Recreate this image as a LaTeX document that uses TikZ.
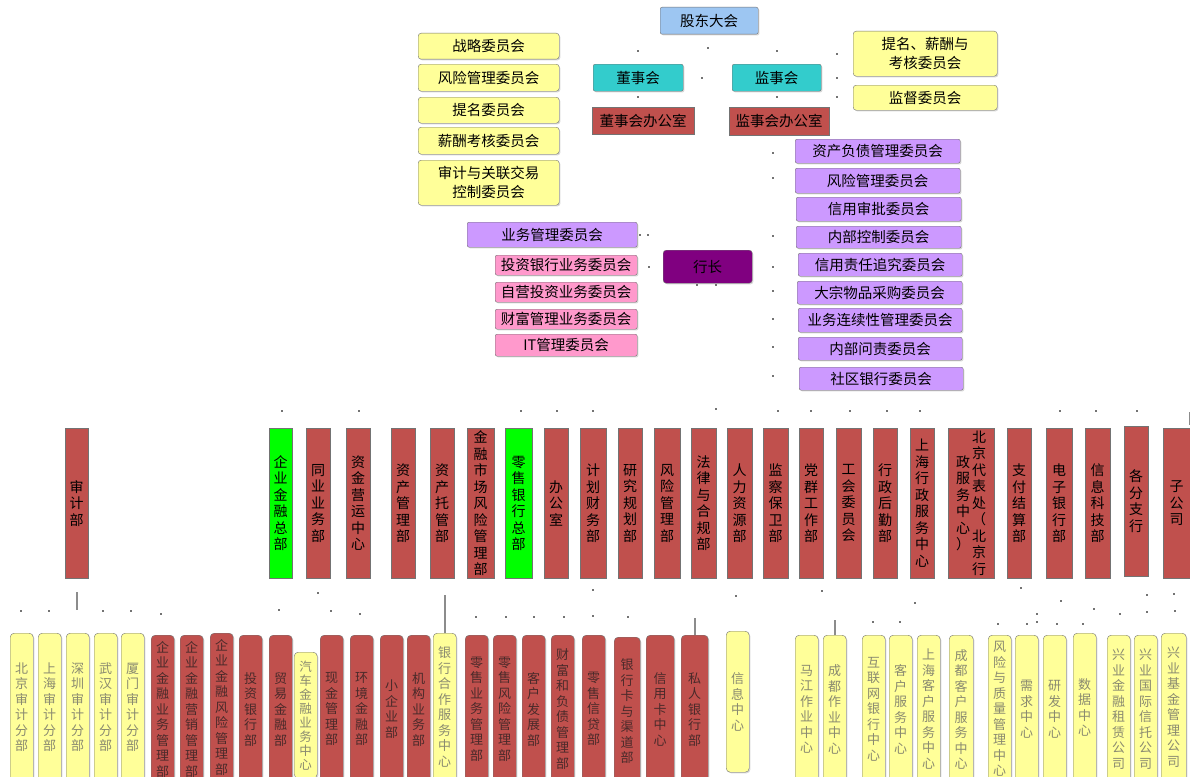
\documentclass[tikz,border=0pt]{standalone}
\usepackage{fontspec}
\setmainfont{Noto Sans CJK SC}
\usepackage{xcolor}
\usepackage{tikz}
\usetikzlibrary{shapes,arrows,positioning,calc,shadows}

\definecolor{gdhblue}{HTML}{9DC6F2}
\definecolor{boardteal}{HTML}{33CCCC}
\definecolor{deptred}{HTML}{C0504D}
\definecolor{cmteyellow}{HTML}{FFFF99}
\definecolor{cmtepurple}{HTML}{CC99FF}
\definecolor{cmtepink}{HTML}{FF99CC}
\definecolor{hzpurple}{HTML}{800080}
\definecolor{hqgreen}{HTML}{00FF00}
\definecolor{unittext}{HTML}{4A2A2A}
\definecolor{unitgray}{HTML}{8A8A70}

% vertical text, one character per line
\newcommand\vtext[1]{\vtop{\vtextaux#1\relax}}
\def\vtextaux#1{\ifx\relax#1\else\hbox to 1em{\hss#1\hss}\expandafter\vtextaux\fi}
\newcommand\vctext[1]{\ensuremath{\vcenter{\vtextaux#1\relax}}}

\begin{document}
\begin{tikzpicture}[
    x=1pt, y=-1pt,
    base/.style={rectangle, draw=black!55, inner sep=0pt, anchor=north west, align=center, drop shadow={shadow xshift=1.2pt, shadow yshift=-1.2pt, opacity=0.3}},
    gdh/.style={base, fill=gdhblue, rounded corners=2pt, font=\fontsize{14.5}{17}\selectfont},
    board/.style={base, fill=boardteal, rounded corners=2pt, font=\fontsize{14.5}{17}\selectfont},
    office/.style={base, fill=deptred, font=\fontsize{14.5}{17}\selectfont},
    cmte/.style={base, fill=cmteyellow, rounded corners=3pt, minimum width=141pt, font=\fontsize{14.5}{19}\selectfont},
    hzcmte/.style={base, fill=cmtepurple, rounded corners=2pt, minimum width=165pt, minimum height=24pt, font=\fontsize{14.5}{17}\selectfont},
    subcmte/.style={base, fill=cmtepink, rounded corners=2pt, minimum width=142pt, minimum height=20pt, font=\fontsize{14.5}{17}\selectfont},
    hz/.style={base, fill=hzpurple, rounded corners=3pt, text=black, font=\fontsize{14.5}{17}\selectfont},
    dept/.style={base, fill=deptred, minimum width=24pt, minimum height=150pt, font=\fontsize{14}{16.5}\selectfont},
    deptgreen/.style={dept, fill=hqgreen},
    unit/.style={base, fill=deptred, rounded corners=4pt, minimum width=23pt, minimum height=148pt, text=unittext, font=\fontsize{13}{15.5}\selectfont},
    unity/.style={unit, fill=cmteyellow, text=unitgray},
    dotmark/.style={fill=black!55},
    stub/.style={draw=black!45, line width=2pt}
]
\clip (0,0) rectangle (1190,776);
\fill[white] (0,0) rectangle (1190,776);

% Governance
\node[gdh, minimum width=98pt, minimum height=27pt] (gudong) at (660,7) {股东大会};
\node[board, minimum width=90pt, minimum height=27pt] (dongshi) at (593,64) {董事会};
\node[board, minimum width=89pt, minimum height=27pt] (jianshi) at (732,64) {监事会};
\node[office, minimum width=102pt, minimum height=27pt] (dsbgs) at (592,107) {董事会办公室};
\node[office, minimum width=100pt, minimum height=28pt] (jsbgs) at (729,107) {监事会办公室};

% Board committees
\node[cmte, minimum height=26pt] (zhanlue) at (418,33) {战略委员会};
\node[cmte, minimum height=27pt] (fengxianwh) at (418,64) {风险管理委员会};
\node[cmte, minimum height=26pt] (timing) at (418,97) {提名委员会};
\node[cmte, minimum height=27pt] (xinchou) at (418,127) {薪酬考核委员会};
\node[cmte, minimum height=45pt] (shenjiwh) at (418,160) {审计与关联交易\\控制委员会};

% Supervisory committees
\node[cmte, minimum width=144pt, minimum height=45pt] (tmxc) at (853,31) {提名、薪酬与\\考核委员会};
\node[cmte, minimum width=144pt, minimum height=25pt] (jiandu) at (853,85) {监督委员会};

% President and committees
\node[hz, minimum width=89pt, minimum height=33pt] (hangzhang) at (663,250) {行长};
\node[hzcmte] (zcfz) at (795,139) {资产负债管理委员会};
\node[hzcmte, minimum height=25pt] (fxgl) at (795,168) {风险管理委员会};
\node[hzcmte] (xysp) at (796,197) {信用审批委员会};
\node[hzcmte, minimum height=22pt] (nbkz) at (796,226) {内部控制委员会};
\node[hzcmte, minimum width=164pt, minimum height=23pt] (xyzr) at (798,253) {信用责任追究委员会};
\node[hzcmte, minimum height=23pt] (dazong) at (797,281) {大宗物品采购委员会};
\node[hzcmte, minimum width=164pt] (lianxu) at (798,308) {业务连续性管理委员会};
\node[hzcmte, minimum width=164pt, minimum height=23pt] (wenze) at (798,337) {内部问责委员会};
\node[hzcmte, minimum width=164pt, minimum height=23pt] (shequ) at (799,367) {社区银行委员会};
\node[hzcmte, minimum width=170pt, minimum height=25pt] (ywgl) at (467,222) {业务管理委员会};
\node[subcmte] (tzyh) at (495,255) {投资银行业务委员会};
\node[subcmte] (ziying) at (495,282) {自营投资业务委员会};
\node[subcmte] (caifuwh) at (495,309) {财富管理业务委员会};
\node[subcmte, minimum height=22pt] (itgl) at (495,334) {IT管理委员会};

% Head office departments
\node[dept, minimum width=23pt] (shenjibu) at (65,428) {\vtext{审计部}};
\node[deptgreen, minimum width=23pt] (qyjr) at (269,428) {\vtext{企业金融总部}};
\node[dept] (tongye) at (306,428) {\vtext{同业业务部}};
\node[dept] (zijin) at (346,428) {\vtext{资金营运中心}};
\node[dept] (zcgl) at (391,428) {\vtext{资产管理部}};
\node[dept] (tuoguan) at (430,428) {\vtext{资产托管部}};
\node[dept, minimum width=27pt] (jrsc) at (467,428) {\vtext{金融市场风险管理部}};
\node[deptgreen, minimum width=27pt] (lingshou) at (505,428) {\vtext{零售银行总部}};
\node[dept] (bangong) at (544,428) {\vtext{办公室}};
\node[dept, minimum width=26pt] (jihua) at (580,428) {\vtext{计划财务部}};
\node[dept] (yanjiu) at (618,428) {\vtext{研究规划部}};
\node[dept, minimum width=26pt] (fxglb) at (654,428) {\vtext{风险管理部}};
\node[dept, minimum width=25pt] (falv) at (691,428) {\vtext{法律与合规部}};
\node[dept, minimum width=25pt] (renli) at (727,428) {\vtext{人力资源部}};
\node[dept, minimum width=25pt] (jiancha) at (763,428) {\vtext{监察保卫部}};
\node[dept] (dangqun) at (799,428) {\vtext{党群工作部}};
\node[dept, minimum width=25pt] (gonghui) at (836,428) {\vtext{工会委员会}};
\node[dept] (houqin) at (873,428) {\vtext{行政后勤部}};
\node[dept] (shxz) at (910,428) {\vtext{上海行政服务中心}};
\node[dept, minimum width=46pt] (bjdb) at (948,428) {\vctext{政服务中心）}\hskip2pt\vctext{北京代表处（北京行}};
\node[dept] (zhifu) at (1007,428) {\vtext{支付结算部}};
\node[dept, minimum width=26pt] (dianzi) at (1046,428) {\vtext{电子银行部}};
\node[dept, minimum width=25pt] (xinxikj) at (1085,428) {\vtext{信息科技部}};
\node[dept] (fenzhi) at (1124,426) {\vtext{各分支行}};
\node[dept, minimum width=27pt] (zigongsi) at (1163,428) {\vtext{子公司}};

% Second level units
\node[unity] (bjsj) at (10,633) {\vtext{北京审计分部}};
\node[unity] (shsj) at (38,633) {\vtext{上海审计分部}};
\node[unity] (szsj) at (66,633) {\vtext{深圳审计分部}};
\node[unity] (whsj) at (94,633) {\vtext{武汉审计分部}};
\node[unity] (xmsj) at (121,633) {\vtext{厦门审计分部}};
\node[unit] (qyyw) at (151,635) {\vtext{企业金融业务管理部}};
\node[unit] (qyyx) at (180,635) {\vtext{企业金融营销管理部}};
\node[unit] (qyfx) at (210,633) {\vtext{企业金融风险管理部}};
\node[unit] (touhang) at (239,635) {\vtext{投资银行部}};
\node[unit] (maoyi) at (269,635) {\vtext{贸易金融部}};
\node[unity, minimum height=126pt, font=\fontsize{12.5}{14}\selectfont] (qiche) at (294,652) {\vtext{汽车金融业务中心}};
\node[unit] (xianjin) at (320,635) {\vtext{现金管理部}};
\node[unit] (huanjing) at (350,635) {\vtext{环境金融部}};
\node[unit] (xiaoqiye) at (380,635) {\vtext{小企业部}};
\node[unit] (jigou) at (407,635) {\vtext{机构业务部}};
\node[unity] (yhhz) at (433,633) {\vtext{银行合作服务中心}};
\node[unit] (lsyw) at (465,635) {\vtext{零售业务管理部}};
\node[unit] (lsfx) at (493,635) {\vtext{零售风险管理部}};
\node[unit] (kehufz) at (522,635) {\vtext{客户发展部}};
\node[unit] (caifufz) at (551,635) {\vtext{财富和负债管理部}};
\node[unit] (lsxd) at (582,635) {\vtext{零售信贷部}};
\node[unit, minimum width=26pt] (yhk) at (614,637) {\vtext{银行卡与渠道部}};
\node[unit, minimum width=28pt] (xyk) at (646,635) {\vtext{信用卡中心}};
\node[unit, minimum width=27pt] (siren) at (681,635) {\vtext{私人银行部}};
\node[unity, minimum height=141pt] (xxzx) at (726,631) {\vtext{信息中心}};
\node[unity] (majiang) at (795,635) {\vtext{马江作业中心}};
\node[unity] (cdzy) at (823,635) {\vtext{成都作业中心}};
\node[unity] (hlw) at (862,635) {\vtext{互联网银行中心}};
\node[unity] (kefu) at (889,635) {\vtext{客户服务中心}};
\node[unity] (shkf) at (917,635) {\vtext{上海客户服务中心}};
\node[unity, minimum width=24pt] (cdkf) at (949,635) {\vtext{成都客户服务中心}};
\node[unity] (fxzl) at (988,635) {\vtext{风险与质量管理中心}};
\node[unity] (xuqiu) at (1015,635) {\vtext{需求中心}};
\node[unity] (yanfa) at (1043,635) {\vtext{研发中心}};
\node[unity] (shuju) at (1073,633) {\vtext{数据中心}};
\node[unity] (zulin) at (1107,635) {\vtext{兴业金融租赁公司}};
\node[unity] (xintuo) at (1134,635) {\vtext{兴业国际信托公司}};
\node[unity, minimum width=25pt] (jijin) at (1161,633) {\vtext{兴业基金管理公司}};

% Broken connector remains
\draw[stub] (zigongsi.north) ++(13,-3) -- ++(0,-13);
\draw[stub] (shenjibu.south) ++(0,14) -- ++(0,18);
\draw[stub] (yhhz.north) -- ++(0,-38);
\draw[stub] (siren.north) ++(0,0) -- ++(0,-17);
\draw[stub] (cdzy.north) -- ++(0,-15);
\foreach \p in {(638,51),(708,48),(777,51),(837,54),(702,78),(837,78),(837,97),(638,97),(777,97),
    (773,153),(773,178),(773,236),(773,267),(773,291),(773,319),(773,347),(773,376),
    (640,235),(648,235),(649,267),(697,285),(716,285),
    (282,411),(359,411),(521,411),(557,411),(593,411),(716,409),(778,411),(811,411),(850,411),
    (887,411),(920,411),(1060,411),(1096,411),(1137,411),
    (21,611),(49,611),(103,611),(131,611),(161,614),(279,610),(318,593),(331,611),(360,614),
    (476,617),(506,617),(534,617),(564,617),(593,590),(593,616),(628,617),(736,596),(822,591),
    (873,622),(900,622),(915,603),(998,624),(1021,588),(1027,624),(1037,614),(1037,622),
    (1057,624),(1061,601),(1083,624),(1094,609),(1120,614),(1147,595),(1147,612),(1174,594),(1175,611)}
  \fill[dotmark] \p ++(-1.3,-1.3) rectangle ++(2.6,2.6);

\end{tikzpicture}
\end{document}
